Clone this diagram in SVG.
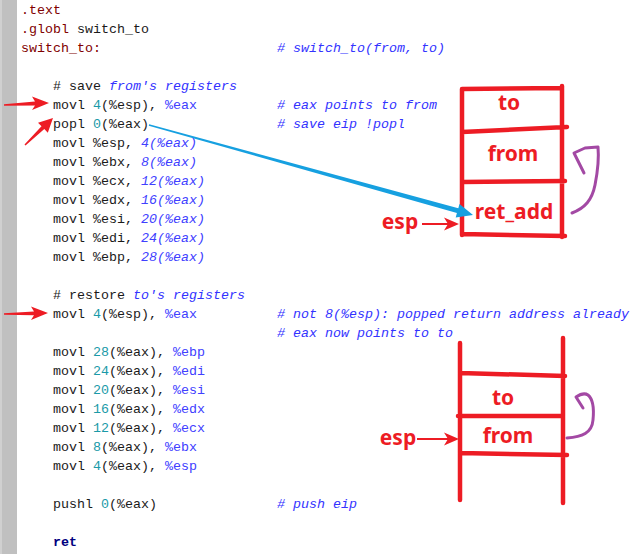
<svg xmlns="http://www.w3.org/2000/svg" width="633" height="554" viewBox="0 0 633 554">
<style>
.code{font-family:"Liberation Mono","Courier New",monospace;font-size:13.33px;fill:#1a1a1a;white-space:pre}
.dir{fill:#800000}
.num{fill:#1a9aa8}
.reg{fill:#4040ff}
.op2{fill:#4040ff;font-style:italic}
.cm{fill:#3333ff;font-style:italic}
.kw{fill:#000080;font-weight:bold}
.lbl{font-family:"Noto Sans","Liberation Sans",sans-serif;font-weight:bold;font-size:21px;fill:#ed1c24;text-anchor:middle}
.stk{stroke:#ed1c24;stroke-width:4.5;stroke-linecap:round;fill:none}
.pur{stroke:#a349a4;stroke-width:3;stroke-linecap:round;stroke-linejoin:round;fill:none}
.redarr{fill:#ed1c24}
.bluearr{fill:#16a0e0}
</style>
<rect x="0" y="0" width="633" height="554" fill="#ffffff"/>
<rect x="0" y="0" width="17" height="554" fill="#c0c0c0"/>
<rect x="0" y="0" width="2" height="554" fill="#d0d0d0"/>

<g id="code" class="code" xml:space="preserve">
<text x="21" y="14"><tspan class="dir">.text</tspan></text>
<text x="21" y="33"><tspan class="dir">.globl</tspan> switch_to</text>
<text x="21" y="52"><tspan class="dir">switch_to:</tspan></text>
<text x="277" y="52" class="cm"># switch_to(from, to)</text>
<text x="53" y="90"># save <tspan class="cm">from's registers</tspan></text>
<text x="53" y="109">movl <tspan class="num">4</tspan>(%esp), <tspan class="reg">%eax</tspan></text>
<text x="277" y="109" class="cm"># eax points to from</text>
<text x="53" y="128">popl <tspan class="num">0</tspan>(%eax)</text>
<text x="277" y="128" class="cm"># save eip !popl</text>
<text x="53" y="147">movl %esp, <tspan class="op2">4(%eax)</tspan></text>
<text x="53" y="166">movl %ebx, <tspan class="op2">8(%eax)</tspan></text>
<text x="53" y="185">movl %ecx, <tspan class="op2">12(%eax)</tspan></text>
<text x="53" y="204">movl %edx, <tspan class="op2">16(%eax)</tspan></text>
<text x="53" y="223">movl %esi, <tspan class="op2">20(%eax)</tspan></text>
<text x="53" y="242">movl %edi, <tspan class="op2">24(%eax)</tspan></text>
<text x="53" y="261">movl %ebp, <tspan class="op2">28(%eax)</tspan></text>
<text x="53" y="299"># restore <tspan class="cm">to's registers</tspan></text>
<text x="53" y="318">movl <tspan class="num">4</tspan>(%esp), <tspan class="reg">%eax</tspan></text>
<text x="277" y="318" class="cm"># not 8(%esp): popped return address already</text>
<text x="277" y="337" class="cm"># eax now points to to</text>
<text x="53" y="356">movl <tspan class="num">28</tspan>(%eax), <tspan class="reg">%ebp</tspan></text>
<text x="53" y="375">movl <tspan class="num">24</tspan>(%eax), <tspan class="reg">%edi</tspan></text>
<text x="53" y="394">movl <tspan class="num">20</tspan>(%eax), <tspan class="reg">%esi</tspan></text>
<text x="53" y="413">movl <tspan class="num">16</tspan>(%eax), <tspan class="reg">%edx</tspan></text>
<text x="53" y="432">movl <tspan class="num">12</tspan>(%eax), <tspan class="reg">%ecx</tspan></text>
<text x="53" y="451">movl <tspan class="num">8</tspan>(%eax), <tspan class="reg">%ebx</tspan></text>
<text x="53" y="470">movl <tspan class="num">4</tspan>(%eax), <tspan class="reg">%esp</tspan></text>
<text x="53" y="508">pushl <tspan class="num">0</tspan>(%eax)</text>
<text x="277" y="508" class="cm"># push eip</text>
<text x="53" y="546"><tspan class="kw">ret</tspan></text>
</g>

<g id="stack-top">
<path class="stk" d="M462,89 L462,235 M562,86 L562,237 M462,89 L562,88 M462,132 L567,127 M462,182 L565,181 M462,234 L565,236"/>
<text class="lbl" x="509" y="110">to</text>
<text class="lbl" x="513" y="161">from</text>
<text class="lbl" x="514" y="219">ret_add</text>
</g>

<g id="esp-top">
<text class="lbl" x="400" y="229">esp</text>
</g>

<g id="stack-bottom">
<path class="stk" d="M460,343 L460,500 M563,338 L563,503 M460,373 L565,376 M458,416 L563,416 M460,453 L567,455"/>
<text class="lbl" x="503" y="405">to</text>
<text class="lbl" x="508" y="443">from</text>
</g>

<g id="esp-bottom">
<text class="lbl" x="398" y="445">esp</text>
</g>

<g id="connectors">
<polygon class="redarr" points="4,104.3 35,101.6 32,96.5 49,103 32,110 35,105.6 4,105.7"/>
<polygon class="redarr" points="24.5,144.5 41.5,126.3 38,122.7 53,118 47.8,132.7 44.3,129.1 25.5,145.5"/>
<polygon class="redarr" points="4,313.3 34,311.6 31,306.5 48,313 31,320 34,315.2 4,314.7"/>
<path d="M422,224 L450,224" stroke="#ed1c24" stroke-width="2" fill="none"/>
<polygon class="redarr" points="459,224 444,217.5 448,224 444,230.5"/>
<path d="M417,439 L450,439" stroke="#ed1c24" stroke-width="2" fill="none"/>
<polygon class="redarr" points="459,439 444,432.5 448,439 444,445.5"/>
<polygon class="bluearr" points="149.2,124.3 458.3,208.3 459.5,204 473,215 455.7,217.4 456.9,213.1 148.8,125.7"/>
<path class="pur" d="M572,213 C585,208 592,200 595,185 C598,170 599,158 598,147 L585,148 L574,153 L584,173"/>
<path class="pur" d="M567,438 C582,437 592,433 593,420 C594,410 594,400 588,395 C585,393 582,393 576,397 L583,408"/>
</g>
</svg>
